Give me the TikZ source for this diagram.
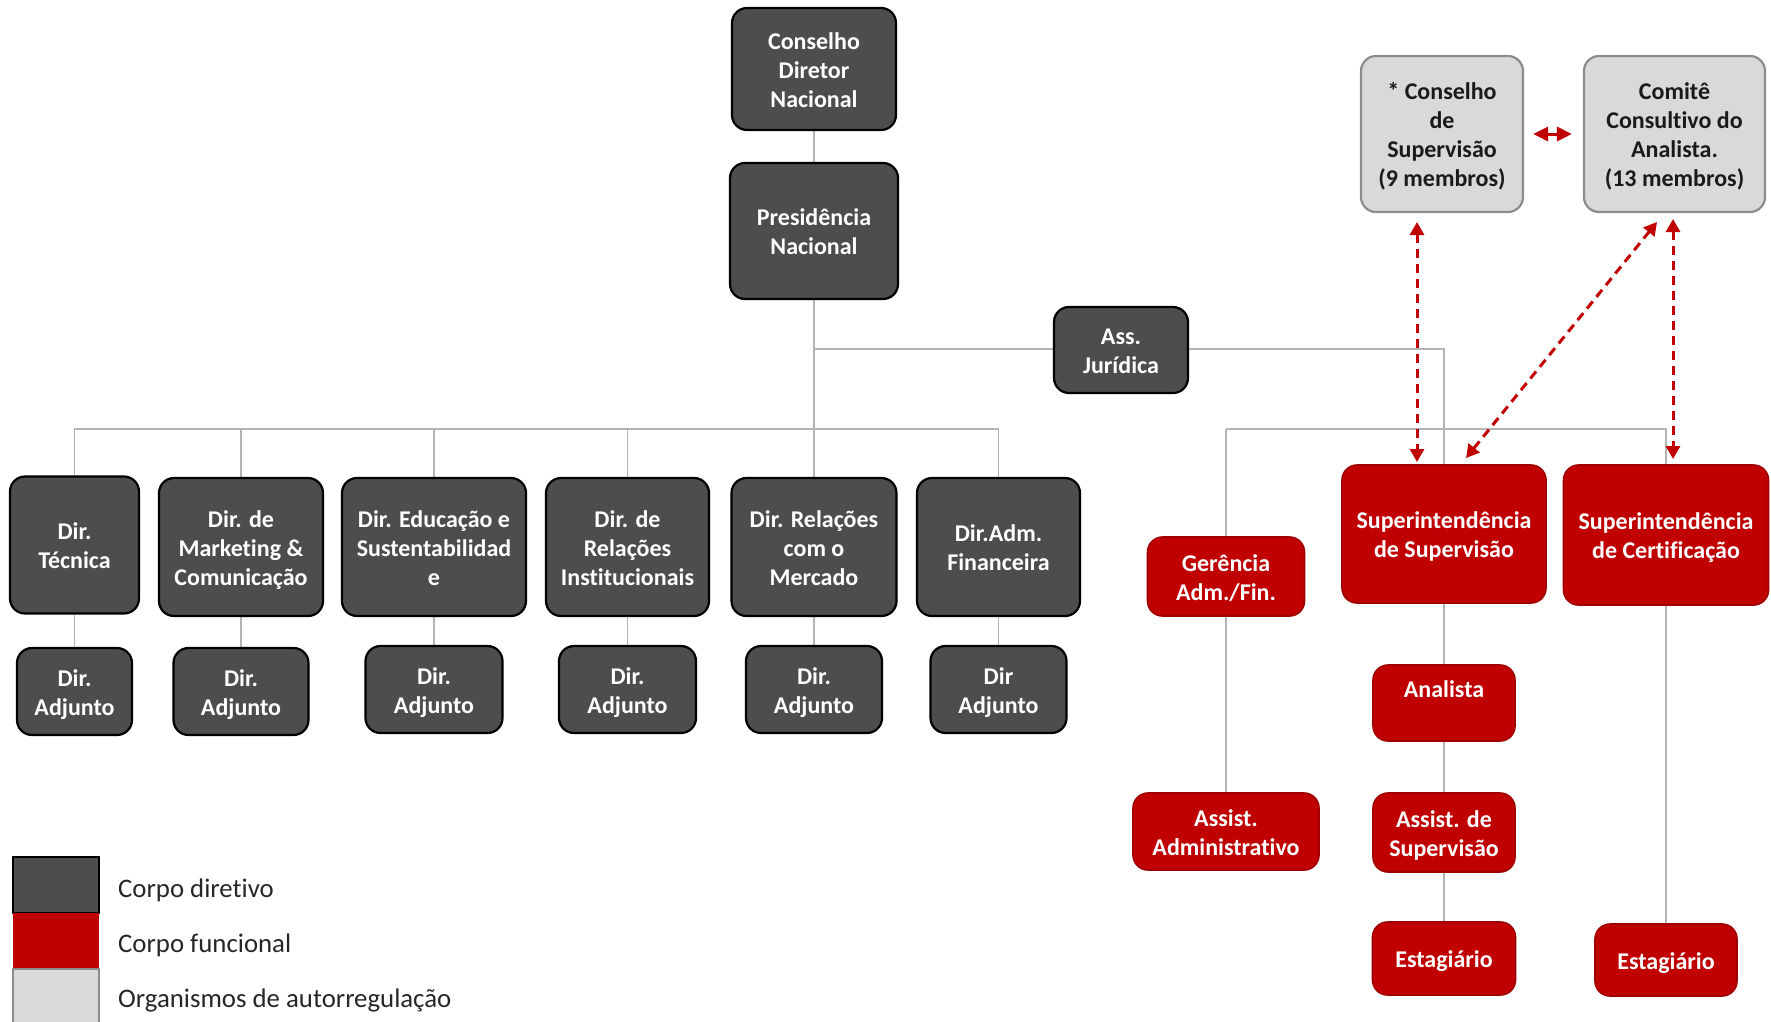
\documentclass[tikz,border=0pt]{standalone}
\usepackage{fontspec}
\setmainfont{Carlito}[Ligatures=NoCommon]
\usetikzlibrary{arrows.meta}
\definecolor{dkfill}{HTML}{4D4D4D}
\definecolor{redfill}{HTML}{C00000}
\definecolor{redline}{HTML}{A00000}
\definecolor{ltfill}{HTML}{D9D9D9}
\definecolor{ltline}{HTML}{8C8C8C}
\definecolor{lttext}{HTML}{1A1A1A}
\definecolor{connc}{HTML}{B4B4B4}
\definecolor{legtext}{HTML}{262626}
\newcommand\toprl{\rule{0pt}{24.6pt}}
\newcommand\botrl{\rule[-6pt]{0pt}{6pt}}
\pgfdeclarelayer{background}
\pgfsetlayers{background,main}
\tikzset{
  box/.style={rounded corners=15pt, align=center, inner sep=0pt,
    font=\fontsize{24}{29}\selectfont\bfseries, line width=2.2pt},
  dk/.style={box, fill=dkfill, draw=black, text=white},
  rd/.style={box, fill=redfill, draw=redline, line width=1.6pt, text=white},
  lt/.style={box, fill=ltfill, draw=ltline, text=lttext},
  conn/.style={draw=connc, line width=1.8pt},
  darr/.style={draw=redfill, line width=3pt, dash pattern=on 9pt off 6pt,
    {Triangle[length=13pt,width=14pt]}-{Triangle[length=13pt,width=14pt]}},
  legtxt/.style={anchor=base west, inner sep=0pt, text=legtext,
    font=\fontsize{26.8}{32}\selectfont}
}
\begin{document}
\begin{tikzpicture}[x=1pt,y=-1pt]
\useasboundingbox (0,0) rectangle (1771,1021);
\clip (0,0) rectangle (1771,1021);

% top
\node[dk, minimum width=164pt, minimum height=122pt] (cons) at (814,69) {\toprl Conselho\\Diretor\\Nacional\botrl};
\node[dk, minimum width=168pt, minimum height=136pt] (pres) at (814,231) {\toprl Presidência\\Nacional\botrl};
\node[dk, minimum width=134pt, minimum height=86pt] (ass) at (1121,350) {\toprl Ass.\\Jurídica\botrl};

% self-regulation bodies
\node[lt, minimum width=162pt, minimum height=156pt] (csup) at (1442,134) {\toprl * Conselho\\de\\Supervisão\\(9 membros)\botrl};
\node[lt, minimum width=181pt, minimum height=156pt] (comite) at (1674.5,134) {\toprl Comitê\\Consultivo do\\Analista.\\(13 membros)\botrl};

% directors
\node[dk, minimum width=129pt, minimum height=137pt] (d1) at (74.5,545) {\toprl Dir.\\Técnica\botrl};
\node[dk, minimum width=164pt, minimum height=138pt] (d2) at (241,547) {\toprl Dir. de\\Marketing \&\\Comunicação\botrl};
\node[dk, minimum width=184pt, minimum height=138pt] (d3) at (434,547) {\toprl Dir. Educação e\\Sustentabilidad\\e\botrl};
\node[dk, minimum width=163pt, minimum height=138pt] (d4) at (627.5,547) {\toprl Dir. de\\Relações\\Institucionais\botrl};
\node[dk, minimum width=165pt, minimum height=138pt] (d5) at (814,547) {\toprl Dir. Relações\\com o\\Mercado\botrl};
\node[dk, minimum width=163pt, minimum height=138pt] (d6) at (998.5,547) {\toprl Dir.Adm.\\Financeira\botrl};

% adjuncts
\node[dk, minimum width=115pt, minimum height=87pt] (a1) at (74.5,691.5) {\toprl Dir.\\Adjunto\botrl};
\node[dk, minimum width=135pt, minimum height=87pt] (a2) at (241,691.5) {\toprl Dir.\\Adjunto\botrl};
\node[dk, minimum width=137pt, minimum height=87pt] (a3) at (434,689.5) {\toprl Dir.\\Adjunto\botrl};
\node[dk, minimum width=137pt, minimum height=87pt] (a4) at (627.5,689.5) {\toprl Dir.\\Adjunto\botrl};
\node[dk, minimum width=136pt, minimum height=87pt] (a5) at (814,689.5) {\toprl Dir.\\Adjunto\botrl};
\node[dk, minimum width=136pt, minimum height=87pt] (a6) at (998.5,689.5) {\toprl Dir\\Adjunto\botrl};

% staff
\node[rd, minimum width=157pt, minimum height=79pt] (ger) at (1226,576.5) {\toprl Gerência\\Adm./Fin.\botrl};
\node[rd, minimum width=204pt, minimum height=138pt] (ssup) at (1444,534) {\toprl Superintendência\\de Supervisão\botrl};
\node[rd, minimum width=205pt, minimum height=140pt] (scert) at (1666,535) {\toprl Superintendência\\de Certificação\botrl};
\node[rd, minimum width=142pt, minimum height=76pt] (anal) at (1444,703) {\toprl Analista\\\botrl};
\node[rd, minimum width=186pt, minimum height=77pt] (assadm) at (1226,831.5) {\toprl Assist.\\Administrativo\botrl};
\node[rd, minimum width=142pt, minimum height=79pt] (asssup) at (1444,832.5) {\toprl Assist. de\\Supervisão\botrl};
\node[rd, minimum width=143pt, minimum height=73pt] (est1) at (1444,958.5) {\toprl Estagiário\botrl};
\node[rd, minimum width=142pt, minimum height=72pt] (est2) at (1666,960) {\toprl Estagiário\botrl};

% hubs
\coordinate (hubJ) at (814,349);
\coordinate (hubL) at (814,429);
\coordinate (hubR) at (1226,429);

\begin{pgfonlayer}{background}
\draw[conn] (cons) -- (pres);
\draw[conn] (pres) -- (hubL);
\draw[conn] (hubJ) -| (ssup);
\foreach \d in {d1,d2,d3,d4,d5,d6} \draw[conn] (hubL) -| (\d);
\foreach \d/\a in {d1/a1,d2/a2,d3/a3,d4/a4,d5/a5,d6/a6} \draw[conn] (\d) -- (\a);
\draw[conn] (hubR) -| (scert);
\draw[conn] (hubR) -- (ger);
\draw[conn] (ger) -- (assadm);
\draw[conn] (ssup) -- (anal);
\draw[conn] (anal) -- (asssup);
\draw[conn] (asssup) -- (est1);
\draw[conn] (scert) -- (est2);
\end{pgfonlayer}

% dashed relations
\coordinate (v1a) at (1417,222);
\coordinate (v1b) at (1417,462);
\coordinate (dga) at (1657,222);
\coordinate (dgb) at (1466,458);
\coordinate (v2a) at (1673,219);
\coordinate (v2b) at (1673,459);
\draw[darr] (v1a) -- (v1b);
\draw[darr] (dga) -- (dgb);
\draw[darr] (v2a) -- (v2b);
\draw[draw=redfill, line width=3pt, shorten <=9pt, shorten >=11pt,
  {Triangle[length=15pt,width=14pt]}-{Triangle[length=15pt,width=14pt]}] (csup) -- (comite);

% legend
\draw[fill=dkfill, draw=black, line width=1.6pt] (13,857) rectangle (99,913);
\fill[redfill] (13,913) rectangle (99,969);
\draw[fill=ltfill, draw=ltline, line width=1.6pt] (13,969) rectangle (99,1040);
\node[legtxt] (l1) at (118,897) {Corpo diretivo};
\node[legtxt] (l2) at (118,952) {Corpo funcional};
\node[legtxt] (l3) at (118,1007) {Organismos de autorregulação};
\end{tikzpicture}
\end{document}
